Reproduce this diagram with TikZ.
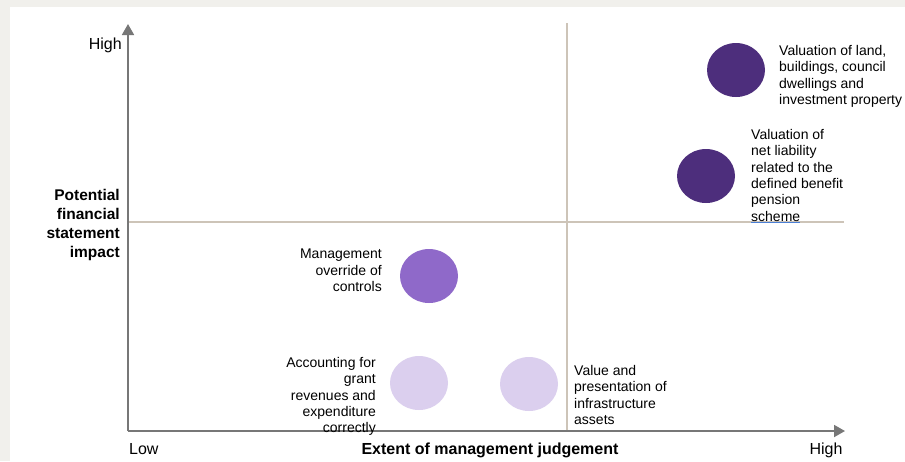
\documentclass[tikz,border=0pt]{standalone}
\usepackage{fontspec}
\setmainfont{Liberation Sans}
\usepackage{xcolor}
\usetikzlibrary{shapes.geometric, arrows.meta}

\definecolor{riskhigh}{HTML}{4D2E7C}
\definecolor{riskmid}{HTML}{8F69C9}
\definecolor{risklow}{HTML}{DBCFEE}
\definecolor{axisgray}{HTML}{777777}
\definecolor{gridtan}{HTML}{CDC4B8}
\definecolor{pagegray}{HTML}{F1F0EC}
\definecolor{spellblue}{HTML}{4A7FD6}

\begin{document}
\begin{tikzpicture}[x=1pt, y=-1pt,
    risk/.style={ellipse, minimum width=58pt, minimum height=54pt, inner sep=0pt},
    lbl/.style={inner sep=0pt, font=\fontsize{14}{16.4}\selectfont},
    axlbl/.style={inner sep=0pt, font=\fontsize{16}{19}\selectfont}]
    \useasboundingbox (0,0) rectangle (905,461);

    % Page and panel
    \fill[pagegray] (0,0) rectangle (905,461);
    \fill[white] (10,7) rectangle (905,461);

    % Axis end points
    \coordinate (origin) at (128,431);
    \coordinate (ytop) at (128,24);
    \coordinate (xend) at (845,431);
    \coordinate (midtop) at (567,23);
    \coordinate (midbot) at (567,431);
    \coordinate (midleft) at (128,222);
    \coordinate (midright) at (844,222);

    % Quadrant lines
    \draw[gridtan, line width=1.8pt] (midtop) -- (midbot);
    \draw[gridtan, line width=1.8pt] (midleft) -- (midright);

    % Axes
    \draw[axisgray, line width=1.8pt, -{Triangle[length=11pt, width=12pt]}] (origin) -- (ytop);
    \draw[axisgray, line width=1.8pt, -{Triangle[length=11pt, width=12pt]}] (origin) -- (xend);

    % Risks
    \node[risk, fill=riskhigh] (land) at (736,70) {};
    \node[risk, fill=riskhigh] (pension) at (706,176) {};
    \node[risk, fill=riskmid] (override) at (429,276) {};
    \node[risk, fill=risklow] (grants) at (419,383) {};
    \node[risk, fill=risklow] (infra) at (529,384) {};

    % Risk labels
    \node[lbl, align=left, anchor=north west] (landtext) at (779,45)
        {Valuation of land,\\buildings, council\\dwellings and\\investment property};
    \node[lbl, align=left, anchor=north west] (pensiontext) at (751,129)
        {Valuation of\\net liability\\related to the\\defined benefit\\pension\\scheme};
    \draw[spellblue, line width=1pt] ([yshift=-0.5pt]pensiontext.south west) -- ++(49,0);
    \node[lbl, align=right, anchor=north east] (overridetext) at (382,249)
        {Management\\override of\\controls};
    \node[lbl, align=right, anchor=north east] (grantstext) at (376,357)
        {Accounting for\\grant\\revenues and\\expenditure\\correctly};
    \node[lbl, align=left, anchor=north west] (infratext) at (574,365)
        {Value and\\presentation of\\infrastructure\\assets};

    % Axis labels
    \node[axlbl, anchor=north east] (yhigh) at (122,38) {High};
    \node[axlbl, font=\fontsize{15.5}{19}\selectfont\bfseries, align=right, anchor=north east] (ytitle) at (120,189)
        {Potential\\financial\\statement\\impact};
    \node[axlbl, anchor=north west] (xlow) at (129,443) {Low};
    \node[axlbl, font=\fontsize{16}{19}\selectfont\bfseries, anchor=north] (xtitle) at (490,443)
        {Extent of management judgement};
    \node[axlbl, anchor=north] (xhigh) at (826,443) {High};
\end{tikzpicture}
\end{document}
